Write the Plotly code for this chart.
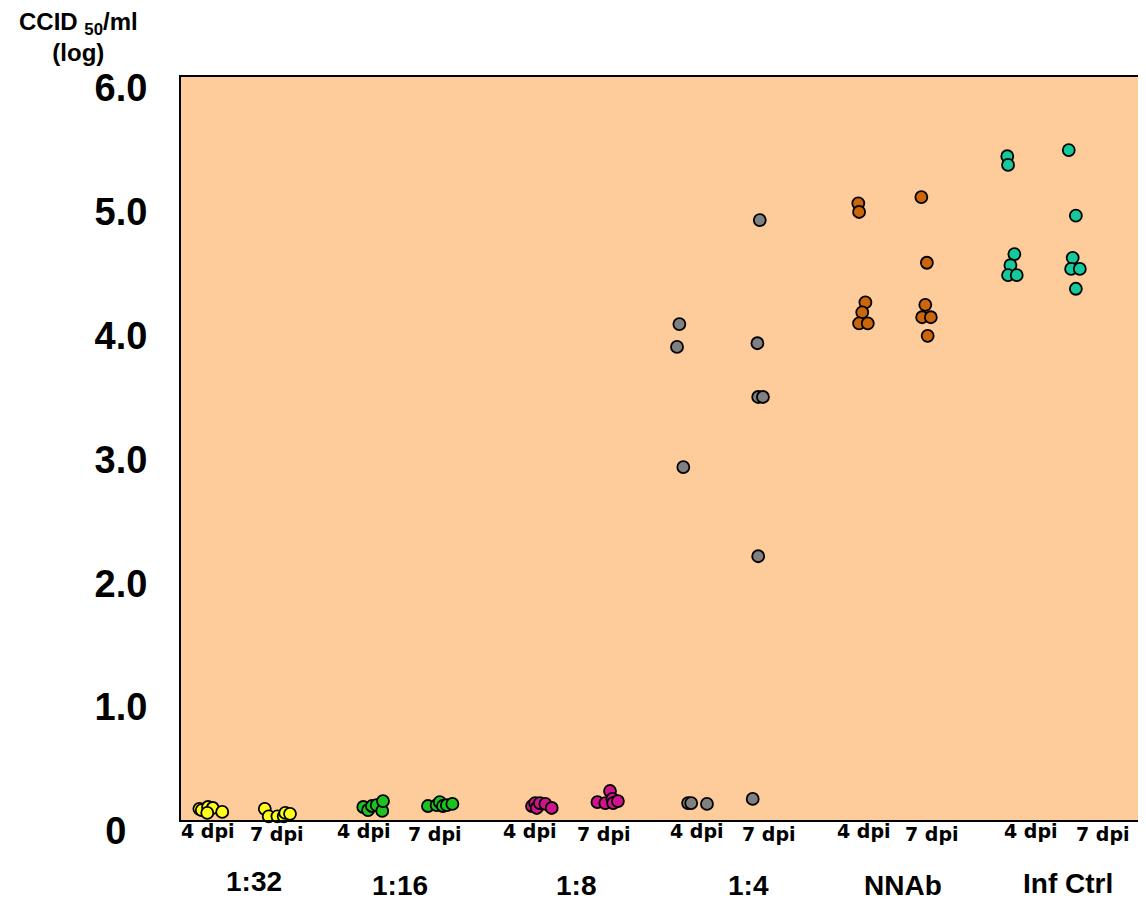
import plotly.graph_objects as go

# ---------------- data ----------------
groups = ["1:32", "1:16", "1:8", "1:4", "NNAb", "Inf Ctrl"]
dpi_labels = ["4 dpi", "7 dpi"]
group_colors = ["#FFFF1A", "#1EC21E", "#D0148C", "#808080", "#CC660A", "#16C99A"]

y_ticks = [0, 1, 2, 3, 4, 5, 6]
y_tick_text = ["0\u00a0\u00a0", "1.0", "2.0", "3.0", "4.0", "5.0", "6.0"]

# log CCID50/ml values per animal, and horizontal scatter offsets (slot units)
v_132_4 = [0.09, 0.08, 0.105, 0.097, 0.057, 0.065]
j_132_4 = [-0.11, -0.08, 0.0, 0.06, -0.01, 0.18]
v_132_7 = [0.09, 0.03, 0.03, 0.03, 0.057, 0.05]
j_132_7 = [-0.28, -0.23, -0.12, -0.04, -0.02, 0.04]

v_116_4 = [0.105, 0.08, 0.113, 0.12, 0.073, 0.153]
j_116_4 = [-0.03, 0.03, 0.08, 0.14, 0.21, 0.22]
v_116_7 = [0.113, 0.12, 0.145, 0.113, 0.12, 0.13]
j_116_7 = [-0.21, -0.10, -0.06, -0.02, 0.03, 0.10]

v_18_4 = [0.113, 0.137, 0.097, 0.137, 0.13, 0.097]
j_18_4 = [0.11, 0.15, 0.17, 0.21, 0.28, 0.36]
v_18_7 = [0.145, 0.137, 0.234, 0.17, 0.137, 0.153]
j_18_7 = [-0.06, 0.04, 0.10, 0.13, 0.14, 0.20]

v_14_4 = [4.005, 3.82, 2.85, 0.137, 0.137, 0.13]
j_14_4 = [-0.02, -0.05, 0.03, 0.09, 0.13, 0.33]
v_14_7 = [4.845, 3.85, 3.416, 3.416, 2.13, 0.17]
j_14_7 = [0.0, -0.03, -0.02, 0.04, -0.02, -0.09]

v_nnab_4 = [4.98, 4.91, 4.18, 4.10, 4.01, 4.01]
j_nnab_4 = [0.25, 0.26, 0.34, 0.30, 0.26, 0.37]
v_nnab_7 = [5.03, 4.50, 4.16, 4.06, 4.06, 3.91]
j_nnab_7 = [0.05, 0.12, 0.10, 0.06, 0.17, 0.13]

v_inf_4 = [5.36, 5.29, 4.57, 4.48, 4.40, 4.40]
j_inf_4 = [0.14, 0.15, 0.23, 0.18, 0.15, 0.26]
v_inf_7 = [5.41, 4.88, 4.54, 4.45, 4.45, 4.29]
j_inf_7 = [-0.08, 0.01, -0.03, -0.05, 0.06, 0.01]

series = [
    (v_132_4, j_132_4), (v_132_7, j_132_7),
    (v_116_4, j_116_4), (v_116_7, j_116_7),
    (v_18_4, j_18_4), (v_18_7, j_18_7),
    (v_14_4, j_14_4), (v_14_7, j_14_7),
    (v_nnab_4, j_nnab_4), (v_nnab_7, j_nnab_7),
    (v_inf_4, j_inf_4), (v_inf_7, j_inf_7),
]

# ---------------- layout constants ----------------
OFF = 8                      # page body margin
W, H = 1146 - OFF, 901 - OFF
L, R = 181 - OFF, 0
T = 77 - OFF
B = H - (820 - OFF)
PW = W - L - R
PH = H - T - B

def px_to_paper_x(px):
    return (px - OFF - L) / PW

def py_to_paper_y(py):
    return (H - B - (py - OFF)) / PH

fig = go.Figure()
for k, (vals, jit) in enumerate(series):
    g = k // 2
    fig.add_trace(go.Scatter(
        x=[k + j for j in jit],
        y=vals,
        mode="markers",
        marker=dict(size=12, color=group_colors[g],
                    line=dict(color="black", width=1.8)),
        cliponaxis=False,
        showlegend=False,
        hoverinfo="y",
    ))

# dpi labels under each slot
dpi_px = [208, 277, 364, 435, 530, 604, 697, 769, 864, 932, 1031, 1103]
dpi_py = [831, 834]
annotations = []
for k, px in enumerate(dpi_px):
    annotations.append(dict(
        text="<b>%s</b>" % dpi_labels[k % 2],
        xref="paper", yref="paper",
        x=px_to_paper_x(px), y=py_to_paper_y(dpi_py[k % 2]),
        xanchor="center", yanchor="middle", showarrow=False,
        font=dict(family="DejaVu Sans", size=19, color="black"),
    ))

group_px = [254, 400, 576, 748, 903, 1068]
group_py = [881, 885, 885, 885, 885, 883]
for g, name in enumerate(groups):
    annotations.append(dict(
        text="<b>%s</b>" % name,
        xref="paper", yref="paper",
        x=px_to_paper_x(group_px[g]), y=py_to_paper_y(group_py[g]),
        xanchor="center", yanchor="middle", showarrow=False,
        font=dict(family="Liberation Sans, Arial", size=28, color="black"),
    ))

# y-axis title at top left
annotations.append(dict(
    text="<b>CCID <sub>50</sub>/ml</b><br><b>(log)</b>",
    xref="paper", yref="paper",
    x=px_to_paper_x(78), y=py_to_paper_y(37),
    xanchor="center", yanchor="middle", showarrow=False, align="center",
    font=dict(family="Liberation Sans, Arial", size=24, color="black"),
))

fig.update_layout(
    width=W, height=H,
    margin=dict(l=L, r=R, t=T, b=B, pad=0),
    paper_bgcolor="white",
    plot_bgcolor="#FECB9A",
    annotations=annotations,
    xaxis=dict(
        range=[-0.343, 11.90],
        showgrid=False, zeroline=False,
        showticklabels=False, ticks="",
        showline=True, linecolor="black", linewidth=2, mirror=True,
        fixedrange=True,
    ),
    yaxis=dict(
        range=[0, 6],
        tickvals=y_ticks, ticktext=["<b>%s</b>" % t for t in y_tick_text],
        tickfont=dict(family="Liberation Sans, Arial", size=38, color="black"),
        ticks="", ticklabelstandoff=24, ticklabelshift=11,
        showgrid=False, zeroline=False,
        showline=True, linecolor="black", linewidth=2,
        fixedrange=True,
    ),
)

fig.write_html("out.html")
